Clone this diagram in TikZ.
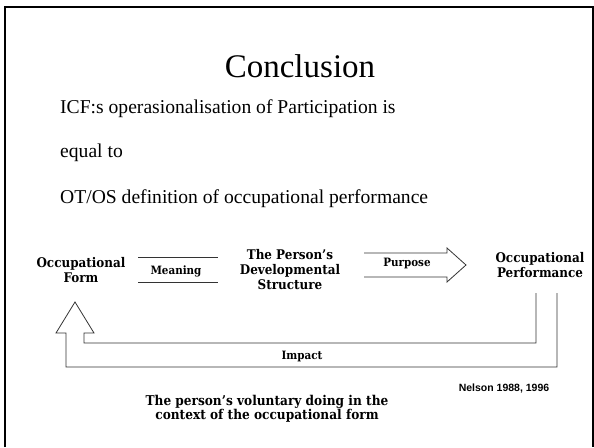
\documentclass[tikz,border=0pt]{standalone}
\usepackage{fontspec}
\setmainfont{Liberation Serif}
\newfontfamily\diagfont{DejaVu Serif Condensed}[BoldFont={DejaVu Serif Condensed Bold}]
\newfontfamily\citefont{Liberation Sans}
\begin{document}
\begin{tikzpicture}[
    x=1pt, y=-1pt,
    slide/.style={line width=2pt},
    body/.style={anchor=base west, inner sep=0pt, font=\fontsize{19.6}{22}\selectfont},
    concept/.style={align=center, inner sep=0pt, font=\diagfont\bfseries\fontsize{13.3}{15}\selectfont},
    label/.style={inner sep=0pt, font=\diagfont\bfseries\fontsize{11.5}{12}\selectfont},
    outline/.style={draw=black!80, line width=0.8pt, line join=miter}
]
\useasboundingbox (0,0) rectangle (594,447);
\draw[slide] (5,447) -- (5,7) -- (593,7) -- (593,447);

\node[inner sep=0pt, font=\fontsize{33}{38}\selectfont] (title) at (300,66) {Conclusion};
\node[body] (icf) at (60,113) {ICF:s operasionalisation of Participation is};
\node[body] (equal) at (60,157) {equal to};
\node[body] (otos) at (60,203) {OT/OS definition of occupational performance};

\node[concept] (form) at (81,270) {Occupational\\Form};
\node[concept] (person) at (290,270) {The Person’s\\Developmental\\Structure};
\node[concept] (perf) at (540,265) {Occupational\\Performance};

% meaning: two lines
\coordinate (m1) at (138,257);
\coordinate (m2) at (218,282);
\draw[outline] (m1) -- (m1 -| m2);
\draw[outline] (m1 |- m2) -- (m2);
\node[label] (meaning) at (176,271) {Meaning};

% purpose: open block arrow
\coordinate (p1) at (364,253);
\coordinate (p2) at (447,277);
\coordinate (tip) at (466,265);
\draw[outline] (p1) -- (p1 -| p2) -- (447,248) -- (tip) -- (447,282) -- (p2) -- (p1 |- p2);
\node[label] (purpose) at (407,264) {Purpose};

% impact: feedback arrow back to the form
\coordinate (inA) at (536,293);
\coordinate (outA) at (557,293);
\coordinate (head) at (75,302);
\draw[outline] (inA) -- (536,343) -- (84,343) -- (84,333) -- (94,333) -- (head)
    -- (56,333) -- (66,333) -- (66,367) -- (557,367) -- (outA);
\node[label] (impact) at (302,356) {Impact};

\node[inner sep=0pt, font=\citefont\bfseries\fontsize{10.5}{12}\selectfont] (nelson) at (504,389) {Nelson 1988, 1996};
\node[concept, font=\diagfont\bfseries\fontsize{13.5}{14.5}\selectfont] (doing) at (267,409)
    {The person’s voluntary doing in the\\ context of the occupational form};
\end{tikzpicture}
\end{document}
